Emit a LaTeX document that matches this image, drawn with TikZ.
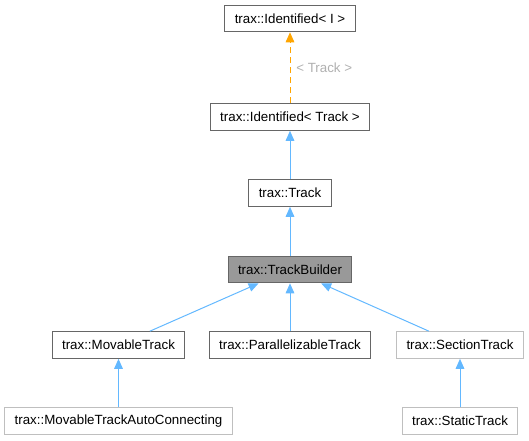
\documentclass[tikz,border=0pt]{standalone}
\usepackage{fontspec}
\setmainfont{Liberation Sans}
\usetikzlibrary{arrows.meta}
\definecolor{edgeblue}{HTML}{63B8FF}
\definecolor{edgeorange}{HTML}{FFA500}
\definecolor{boxdark}{HTML}{666666}
\definecolor{boxlight}{HTML}{BFBFBF}
\definecolor{boxfill}{HTML}{999999}
\definecolor{labelgray}{HTML}{B0B0B0}

\begin{document}
\begin{tikzpicture}[x=0.75pt, y=-0.75pt,
    classbox/.style={draw=boxdark, line width=0.75pt, fill=white, minimum height=20pt,
        inner xsep=7.5pt, inner ysep=0pt, font=\fontsize{10}{12}\selectfont},
    lightbox/.style={classbox, draw=boxlight},
    edge/.style={draw=edgeblue, line width=0.75pt, -{Triangle[width=6.5pt, length=7.5pt]}},
    tmpledge/.style={draw=edgeorange, line width=0.75pt, dash pattern=on 4.5pt off 3pt,
        -{Triangle[width=6.5pt, length=7.5pt]}}]
    % Fix the page size
    \useasboundingbox (0,0) rectangle (529,440);

    % Class boxes, top to bottom
    \node[classbox] (idI) at (290,18.5) {trax::Identified< I >};
    \node[classbox] (idTrack) at (290,117) {trax::Identified< Track >};
    \node[classbox] (track) at (290,193) {trax::Track};
    \node[classbox, fill=boxfill] (builder) at (290,269.5) {trax::TrackBuilder};
    \node[classbox] (movable) at (118.5,345) {trax::MovableTrack};
    \node[classbox] (parallel) at (290,345) {trax::ParallelizableTrack};
    \node[lightbox] (section) at (460,345) {trax::SectionTrack};
    \node[lightbox] (autoconn) at (118.5,421) {trax::MovableTrackAutoConnecting};
    \node[lightbox] (static) at (460,421) {trax::StaticTrack};

    % Template instantiation
    \draw[tmpledge] (idTrack) -- (idI)
        node[midway, right=1pt, text=labelgray, font=\fontsize{10}{12}\selectfont] {< Track >};

    % Inheritance edges
    \draw[edge] (track) -- (idTrack);
    \draw[edge] (builder) -- (track);
    \draw[edge] (movable) -- (builder);
    \draw[edge] (parallel) -- (builder);
    \draw[edge] (section) -- (builder);
    \draw[edge] (autoconn) -- (movable);
    \draw[edge] (static) -- (section);
\end{tikzpicture}
\end{document}
